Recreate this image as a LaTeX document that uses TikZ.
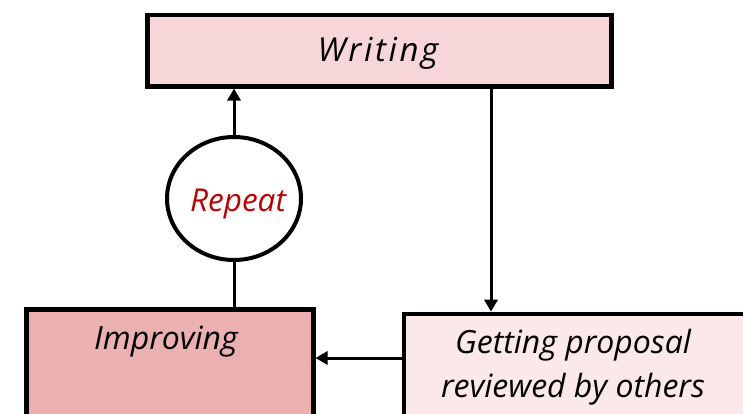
\documentclass[tikz,border=0pt]{standalone}
\usepackage{fontspec}
\setmainfont{Open Sans}
\usetikzlibrary{arrows.meta,shapes.geometric}
\definecolor{writefill}{HTML}{F6D6D9}
\definecolor{improvefill}{HTML}{EBB1B1}
\definecolor{reviewfill}{HTML}{FBE8E9}
\definecolor{repeatred}{HTML}{C00000}
\begin{document}
\begin{tikzpicture}[x=1pt,y=-1pt,
  box/.style={draw=black,line width=4.5pt,rectangle,inner sep=0pt,anchor=north west},
  label/.style={anchor=base,font=\fontsize{32}{38}\selectfont\itshape,inner sep=0pt},
  conn/.style={line width=3pt,draw=black},
  tip/.style={-{Triangle[width=13pt,length=12pt]}}]
\useasboundingbox (0,0) rectangle (743,413);
\clip (0,0) rectangle (743,413);
% boxes
\node[box,fill=writefill,minimum width=464pt,minimum height=71.5pt] (writing) at (145,12.5) {};
\node[box,fill=improvefill,minimum width=287pt,minimum height=140pt] (improving) at (24,307) {};
\node[box,fill=reviewfill,minimum width=360pt,minimum height=140pt] (review) at (401.7,311.7) {};
\node[draw=black,line width=4pt,ellipse,fill=white,inner sep=0pt,minimum width=134pt,minimum height=123pt] (rep) at (234,198.5) {};
% labels
\node[label,font=\fontsize{33}{38}\selectfont\itshape\addfontfeature{LetterSpace=8}] (twriting) at (378,61) {Writing};
\node[label] (timproving) at (166,349) {Improving};
\node[label] (treview1) at (573,353) {Getting proposal};
\node[label] (treview2) at (573,397) {reviewed by others};
\node[label,font=\fontsize{31.5}{38}\selectfont\itshape,text=repeatred] (trep) at (238,211) {Repeat};
% connectors
\coordinate (wg) at (491,0);
\coordinate (gi) at (0,358);
\draw[conn,tip] (rep.north) -- (rep.north |- writing.south);
\draw[conn] (rep.south) -- (rep.south |- improving.north);
\draw[conn,tip] (writing.south -| wg) -- (review.north -| wg);
\draw[conn,tip] (review.west |- gi) -- (improving.east |- gi);
\end{tikzpicture}
\end{document}
